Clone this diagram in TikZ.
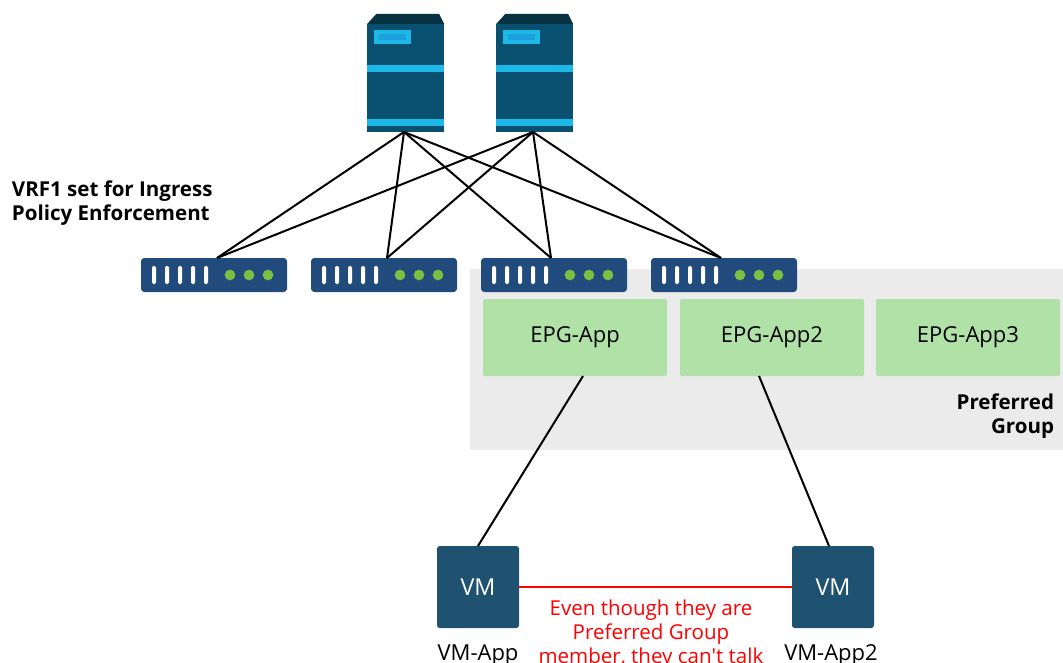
\documentclass[tikz,border=0pt]{standalone}
\usepackage{fontspec}
\setmainfont{Open Sans}
\usetikzlibrary{calc,positioning}
\definecolor{myserver}{RGB}{10,80,112}
\definecolor{mycap}{RGB}{6,50,66}
\definecolor{mystripe}{RGB}{27,184,232}
\definecolor{mybadge}{RGB}{27,160,220}
\definecolor{myleaf}{RGB}{32,75,124}
\definecolor{mydot}{RGB}{122,193,66}
\definecolor{mygray}{RGB}{235,235,235}
\definecolor{mygreen}{RGB}{176,226,168}
\definecolor{myvm}{RGB}{31,82,112}
\definecolor{myred}{RGB}{255,0,0}

\begin{document}
\begin{tikzpicture}[
  x=0.75pt,
  y=-0.75pt,
  outer sep=0pt,
  myserver/.style={
    fill=myserver,
    minimum width=57.75pt,
    minimum height=81pt,
    inner sep=0pt
    },
  myleaf/.style={
    fill=myleaf,
    rounded corners=2.5pt,
    minimum width=109.5pt,
    minimum height=25.5pt,
    inner sep=0pt
    },
  myepg/.style={
    fill=mygreen,
    rounded corners=1.5pt,
    minimum width=138pt,
    minimum height=57.75pt,
    inner sep=0pt,
    font=\fontsize{16.5}{20}\selectfont
    },
  myvm/.style={
    fill=myvm,
    rounded corners=2pt,
    minimum size=61.5pt,
    inner sep=0pt,
    text=white,
    font=\fontsize{17.5}{20}\selectfont
    },
  mylabel/.style={
    inner sep=0pt,
    font=\fontsize{16.5}{18}\selectfont
    },
  mynote/.style={
    inner sep=0pt,
    text=myred,
    font=\fontsize{15.4}{18}\selectfont
    },
  mybold/.style={
    inner sep=0pt,
    font=\fontsize{15.4}{17.5}\selectfont\bfseries
    },
  mylink/.style={
    line width=1.5pt,
    black
    }
]
\useasboundingbox (0,0) rectangle (1063,663);

\node[fill=mygray, inner sep=0pt, minimum width=444.75pt, minimum height=135.75pt] (preferred) at (766.5,359.5) {};

\node[myserver] (server1) at (405.7,78) {};
\node[myserver, right=39pt of server1] (server2) {};
\coordinate (uplink1) at ($(server1.south)+(-1.7,0)$);
\coordinate (uplink2) at ($(server2.south)+(-1.7,0)$);

\node[myleaf] (leaf1) at (214,275) {};
\node[myleaf, right=18pt of leaf1] (leaf2) {};
\node[myleaf, right=18pt of leaf2] (leaf3) {};
\node[myleaf, right=18pt of leaf3] (leaf4) {};
\coordinate (port1) at ($(leaf1.north)+(3,0)$);
\coordinate (port2) at ($(leaf2.north)+(3,0)$);
\coordinate (port3) at ($(leaf3.north)+(-3,0)$);
\coordinate (port4) at ($(leaf4.north)+(-3,0)$);

\foreach \Valor in {1,2,3,4}
  \draw[mylink] (uplink1) -- (port\Valor);
\foreach \Valor in {1,2,3,4}
  \draw[mylink] (uplink2) -- (port\Valor);

\foreach \Valor in {server1,server2}
{
  \fill[mycap] (\Valor.north west) -- ++(9,-10) -- ($(\Valor.north east)+(-5,-10)$) -- (\Valor.north east) -- cycle;
  \fill[mystripe] ($(\Valor.north west)+(0,41)$) rectangle ($(\Valor.north east)+(0,48)$);
  \fill[mystripe] ($(\Valor.north west)+(0,95)$) rectangle ($(\Valor.north east)+(0,102)$);
  \fill[mystripe] ($(\Valor.north west)+(7,6)$) rectangle ($(\Valor.north west)+(44,20)$);
  \fill[mybadge] ($(\Valor.north west)+(12,10)$) rectangle ($(\Valor.north west)+(39,16)$);
}

\foreach \Valor in {leaf1,leaf2,leaf3,leaf4}
{
  \foreach \Valori in {13,26,39,52,65}
    \fill[white, rounded corners=1pt] ($(\Valor.west)+(\Valori-2,-9)$) rectangle ($(\Valor.west)+(\Valori+2,9)$);
  \foreach \Valori in {89,108,127}
    \fill[mydot] ($(\Valor.west)+(\Valori,0)$) circle (4pt);
}

\node[myepg] (epg1) at (575,337.5) {EPG-App};
\node[myepg, right=9.75pt of epg1] (epg2) {EPG-App2};
\node[myepg, right=9pt of epg2] (epg3) {EPG-App3};

\node[myvm] (vm1) at (478,587) {VM};
\node[myvm] (vm2) at (833,587) {VM};

\coordinate (epgport1) at ($(epg1.south)+(8,0)$);
\coordinate (epgport2) at ($(epg2.south)+(-13,0)$);
\coordinate (vmport2) at ($(vm2.north)+(-4,0)$);
\draw[mylink] (epgport1) -- (vm1.north);
\draw[mylink] (epgport2) -- (vmport2);
\draw[myred, line width=1.5pt] (vm1.east) -- (vm2.west);

\node[mynote, align=center, anchor=north] (note) at (651,600)
  {Even though they are\\Preferred Group\\member, they can\textquotesingle t talk};
\node[mylabel, anchor=base] (vmname1) at (478,660) {VM-App};
\node[mylabel, anchor=base] (vmname2) at (831,660) {VM-App2};
\node[mybold, align=left, anchor=north west] (vrf) at (12,181)
  {VRF1 set for Ingress\\Policy Enforcement};
\node[mybold, align=right, anchor=north east] (group) at (1054,394)
  {Preferred\\Group};

\end{tikzpicture}
\end{document}
